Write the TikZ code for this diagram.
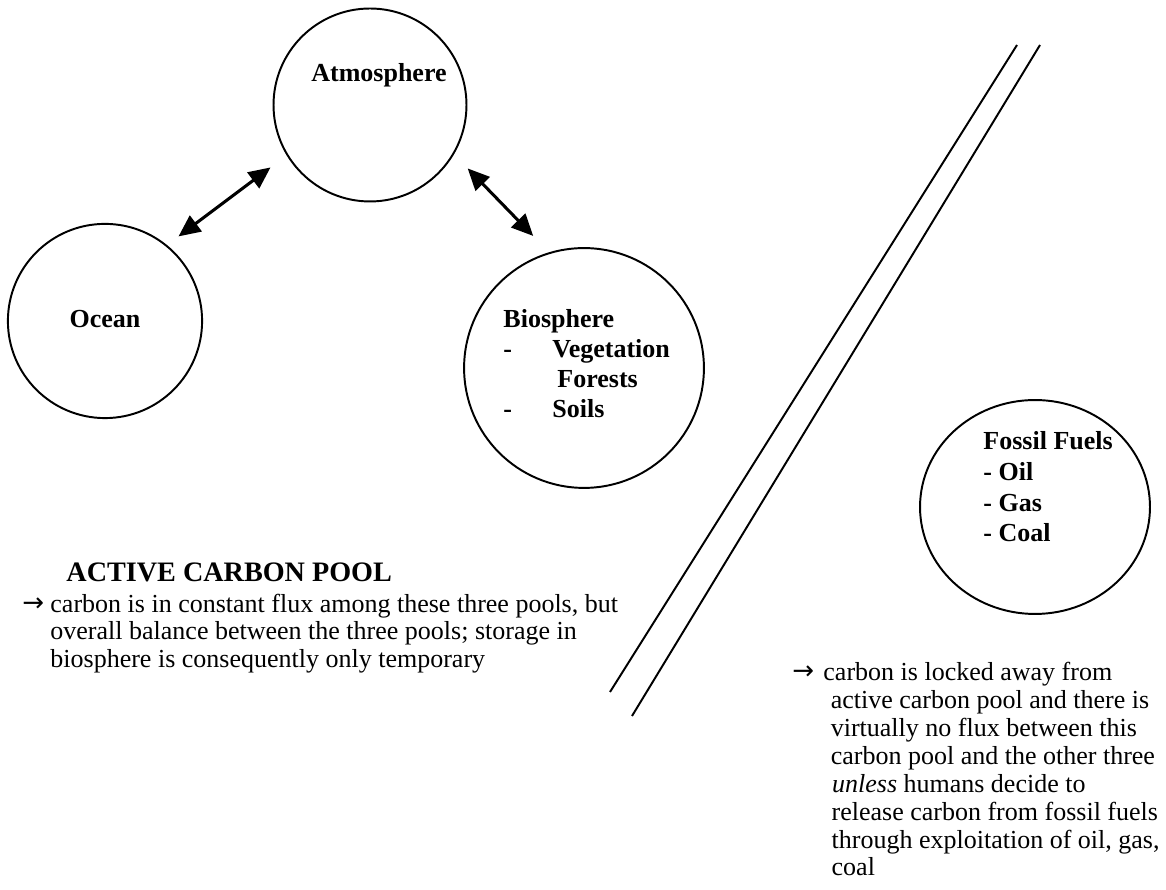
\documentclass[tikz,border=0pt]{standalone}
\usepackage{fontspec}
\setmainfont{Liberation Serif}
\newfontfamily\arrowfont{DejaVu Sans}
\usetikzlibrary{arrows.meta,shapes.geometric}

\tikzset{
  pool/.style={draw, circle, line width=0.9pt, inner sep=0pt},
  poolname/.style={inner sep=0pt, font=\bfseries\fontsize{12pt}{13.85pt}\selectfont},
  flux/.style={{Triangle[length=10pt,width=9pt]}-{Triangle[length=10pt,width=9pt]}, line width=1.4pt},
  note/.style={anchor=base west, inner sep=0pt, align=left, font=\fontsize{12pt}{12.92pt}\selectfont}
}

\begin{document}
\begin{tikzpicture}[x=0.01622cm, y=0.01622cm]
\useasboundingbox (0,0) rectangle (1166,890);

% the four carbon pools
\node[pool, minimum size=3.13cm] (atmos) at (370,785) {};
\node[pool, minimum size=3.15cm] (ocean) at (105,569) {};
\node[pool, minimum size=3.89cm] (bio) at (584,522) {};
\node[pool, ellipse, minimum width=3.73cm, minimum height=3.47cm] (fossil) at (1035,383) {};

% (multi-line nodes sit on the baseline of their last line)
\node[poolname, anchor=base] (atmostext) at (379,808) {Atmosphere};
\node[poolname, anchor=base] (oceantext) at (105,562) {Ocean};
\node[poolname, anchor=base west, align=left] (biotext) at (503,472)
  {Biosphere\\ \makebox[22.6pt][l]{-}Vegetation\\ \hspace*{24.9pt}Forests\\ \makebox[22.6pt][l]{-}Soils};
\node[poolname, anchor=base west, align=left, font=\bfseries\fontsize{12pt}{14.3pt}\selectfont] (fossiltext) at (983,348)
  {Fossil Fuels\\ - Oil\\ - Gas\\ - Coal};

% exchange between the active pools
\draw[flux] ([shift={(49:14)}]ocean.49) -- ([shift={(212.7:20)}]atmos.212.7);
\draw[flux] ([shift={(327:19)}]atmos.327) -- ([shift={(111.3:20.6)}]bio.111.3);

% the double line
\draw[line width=0.9pt] (1017,845) -- (610,198);
\draw[line width=0.9pt] (1040,845) -- (632,174);

% active pool
\node[anchor=base west, inner sep=0pt, font=\bfseries\fontsize{13pt}{16pt}\selectfont] (activehead) at (66,308) {ACTIVE CARBON POOL};
\node[note] (activearrow) at (22,278) {\arrowfont →};
\node[note] (activetext) at (50,222)
  {carbon is in constant flux among these three pools, but\\
   overall balance between the three pools; storage in\\
   biosphere is consequently only temporary};

% locked pool
\node[note] (lockarrow) at (792,210) {\arrowfont →};
\node[note] (locktext) at (823,14)
  {carbon is locked away from\\
   \hspace*{3.4pt}active carbon pool and there is\\
   \hspace*{3.4pt}virtually no flux between this\\
   \hspace*{3.4pt}carbon pool and the other three\\
   \hspace*{4pt}\textit{unless} humans decide to\\
   \hspace*{3.8pt}release carbon from fossil fuels\\
   \hspace*{3.8pt}through exploitation of oil, gas,\\
   \hspace*{3.8pt}coal};

\end{tikzpicture}
\end{document}
